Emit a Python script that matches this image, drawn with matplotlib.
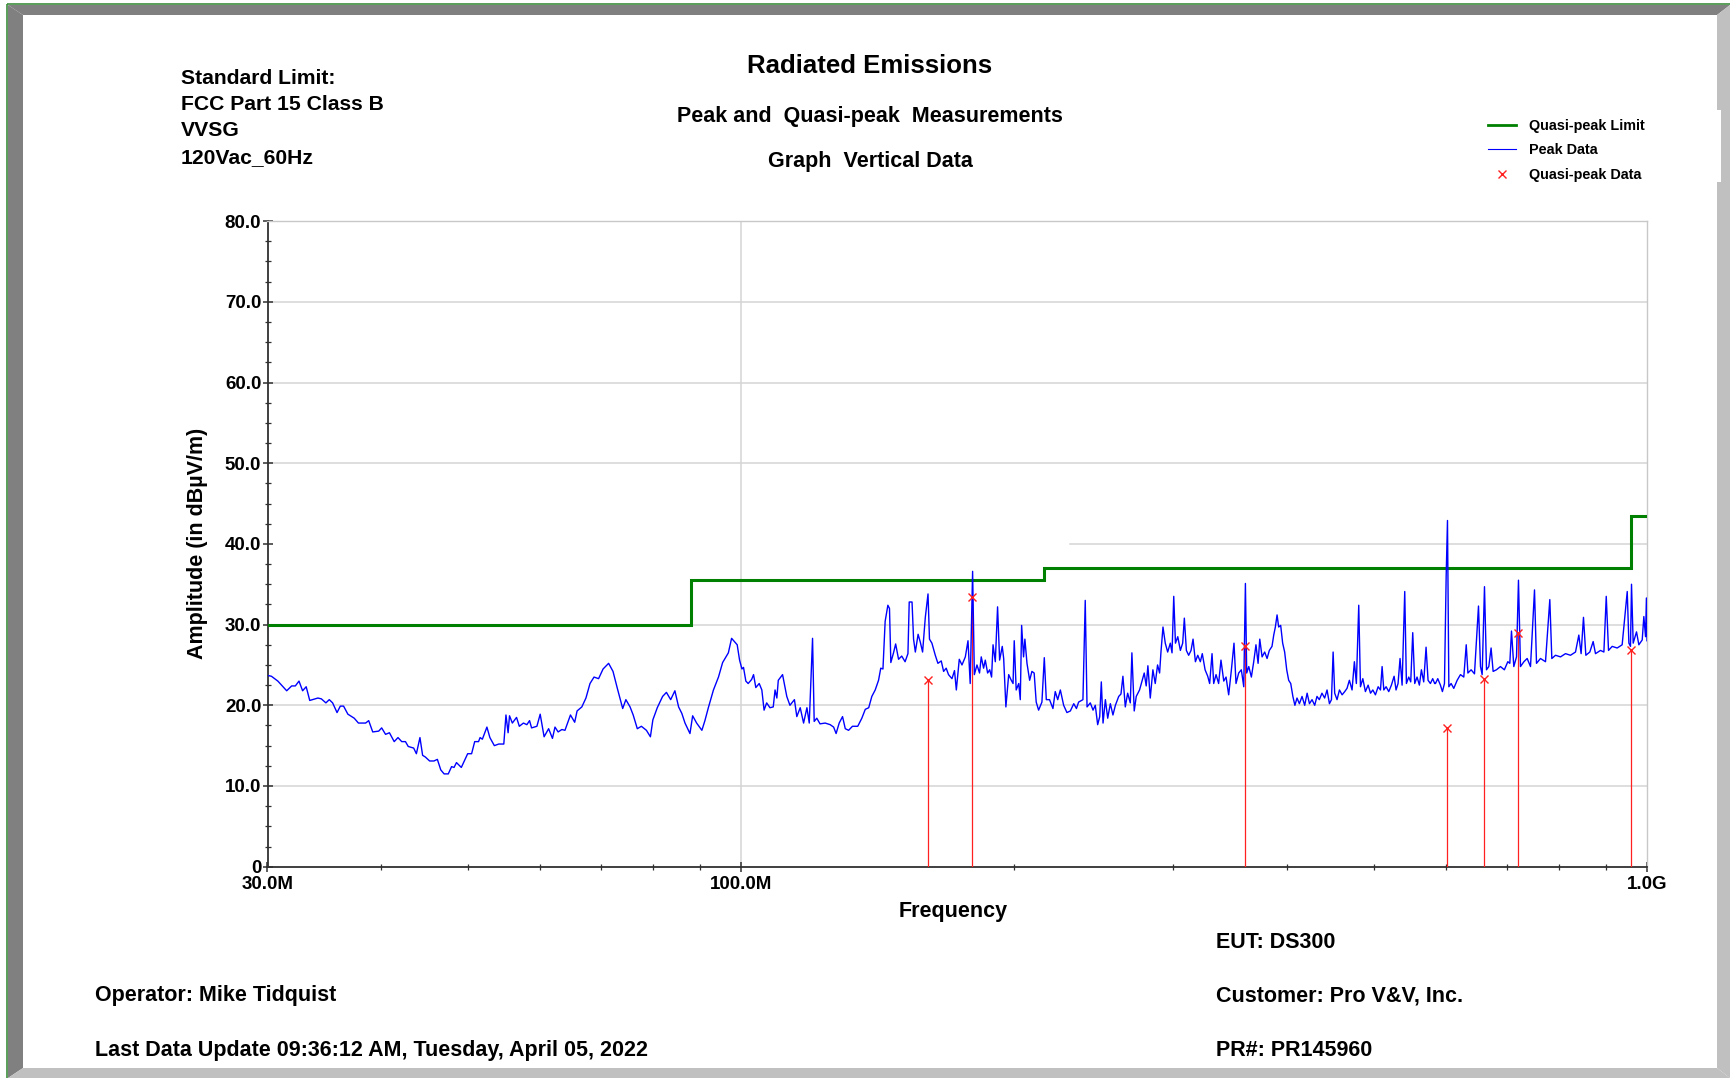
import matplotlib
matplotlib.use('Agg')
import matplotlib.pyplot as plt
from matplotlib.lines import Line2D
from matplotlib.patches import Polygon, Rectangle
from matplotlib.ticker import FixedLocator, NullFormatter

plt.rcParams['font.family'] = ['Liberation Sans', 'DejaVu Sans']
plt.rcParams['font.weight'] = 'bold'

# --- Data (frequency in MHz, level in dBuV/m) ---
# Quasi-peak limit: band edges and level in each band
LIMIT_FREQ = [30, 88, 216, 960, 1000]
LIMIT_LEVEL = [30.0, 35.5, 37.0, 43.5]

# Quasi-peak measurements
QP_FREQ = [160.8, 180.0, 360.2, 601.7, 660.4, 720.7, 960.5]
QP_LEVEL = [23.1, 33.4, 27.3, 17.2, 23.2, 28.9, 26.9]

# Peak sweep
PEAK_FREQ = [
    30.0, 30.3, 30.8, 31.5, 31.9, 32.2, 32.5, 32.8, 33.1, 33.4, 34.1, 34.4, 34.8, 35.1, 35.4,
    35.8, 36.1, 36.4, 36.8, 37.4, 37.8, 38.5, 38.8, 39.2, 39.8, 40.1, 40.5, 40.9, 41.4, 41.8,
    42.2, 42.6, 42.9, 43.5, 43.8, 44.2, 44.5, 44.8, 45.3, 45.8, 46.2, 46.6, 47.0, 47.5, 47.9,
    48.2, 48.5, 49.1, 49.9, 50.4, 50.8, 51.3, 51.5, 51.8, 52.4, 52.8, 53.4, 54.0, 54.7, 55.0,
    55.3, 55.5, 55.9, 56.5, 56.9, 57.5, 58.0, 58.4, 58.7, 59.5, 60.0, 60.6, 61.3, 61.9, 62.3,
    62.8, 63.4, 63.9, 64.8, 65.5, 65.9, 66.7, 67.4, 68.1, 68.8, 69.6, 70.4, 71.4, 72.2, 73.0,
    74.0, 74.6, 75.4, 76.0, 76.8, 77.6, 78.6, 79.4, 79.9, 80.8, 81.9, 82.7, 83.6, 84.5, 85.3,
    86.0, 86.7, 87.8, 88.4, 89.3, 90.5, 91.2, 92.0, 93.2, 94.4, 95.4, 96.8, 97.6, 98.3, 99.0,
    99.6, 100.2, 100.6, 101.2, 101.8, 102.7, 103.2, 103.8, 104.7, 105.4, 106.0, 106.7, 107.6, 108.5, 109.0,
    109.5, 109.9, 111.1, 112.3, 113.2, 114.5, 115.2, 116.2, 117.2, 118.2, 118.9, 119.9, 120.4, 121.2, 122.2,
    123.8, 125.4, 126.5, 127.3, 128.3, 129.4, 130.3, 131.4, 132.7, 134.5, 135.9, 137.1, 138.3, 139.4, 140.6,
    141.8, 142.6, 143.4, 144.2, 145.2, 145.8, 146.3, 147.3, 148.1, 149.2, 150.4, 151.7, 152.8, 153.3, 154.4,
    155.0, 155.7, 156.8, 157.7, 158.6, 159.7, 160.8, 161.4, 162.4, 163.8, 164.9, 166.3, 167.3, 168.4, 169.4,
    170.9, 172.0, 172.8, 174.1, 175.3, 176.8, 178.0, 179.0, 180.1, 180.9, 182.1, 183.3, 184.1, 185.2, 186.0,
    187.1, 188.1, 189.0, 189.7, 190.8, 191.9, 192.9, 194.2, 194.9, 196.0, 197.4, 198.5, 199.6, 200.2, 201.2,
    202.5, 203.3, 204.0, 205.0, 205.7, 206.8, 208.2, 209.4, 210.6, 211.7, 213.0, 214.8, 216.1, 217.2, 219.0,
    220.9, 222.2, 223.6, 225.1, 227.0, 228.9, 230.9, 232.9, 234.5, 235.8, 238.4, 239.8, 240.9, 242.9, 244.6,
    246.0, 247.5, 248.8, 249.8, 250.9, 252.4, 253.9, 255.6, 257.3, 258.9, 261.1, 262.6, 263.9, 265.5, 267.1,
    268.9, 270.0, 271.6, 273.0, 275.3, 277.0, 278.6, 280.0, 281.2, 282.9, 284.8, 286.5, 288.2, 289.7, 290.7,
    292.2, 293.9, 295.7, 297.7, 299.0, 300.3, 301.6, 303.4, 305.4, 307.2, 308.5, 310.1, 311.9, 313.8, 315.4,
    317.3, 319.2, 321.3, 322.9, 325.2, 327.4, 329.0, 331.0, 332.4, 334.4, 336.6, 338.6, 341.0, 343.0, 345.3,
    347.7, 350.0, 351.8, 354.2, 356.6, 358.8, 360.3, 361.5, 363.4, 365.8, 368.0, 370.1, 372.1, 373.7, 375.9,
    378.4, 380.7, 382.9, 385.5, 387.2, 388.8, 390.5, 392.1, 394.1, 396.1, 398.1, 400.2, 402.2, 404.3, 406.5,
    408.6, 410.8, 413.3, 416.1, 418.9, 421.5, 424.0, 426.8, 429.7, 432.2, 434.8, 437.7, 440.7, 443.4, 446.1,
    448.4, 450.3, 452.1, 454.8, 457.6, 460.7, 463.8, 466.5, 469.3, 472.5, 475.3, 477.7, 480.6, 482.7, 485.6,
    488.8, 492.2, 495.2, 498.1, 501.4, 504.9, 507.9, 510.0, 512.2, 515.2, 518.7, 522.2, 525.8, 528.4, 531.1,
    533.8, 536.6, 540.2, 542.5, 545.7, 548.5, 551.3, 554.1, 557.4, 560.7, 563.6, 566.9, 570.3, 573.2, 576.6,
    580.0, 582.9, 584.1, 587.5, 591.5, 594.5, 597.6, 600.2, 602.2, 604.3, 607.8, 611.9, 617.2, 622.4, 627.7,
    631.6, 634.3, 639.5, 645.0, 651.6, 654.9, 657.7, 661.6, 665.0, 668.9, 672.8, 676.3, 682.0, 689.0, 695.9,
    702.0, 705.6, 708.6, 712.8, 717.7, 721.3, 725.0, 731.3, 737.4, 743.7, 751.3, 755.1, 762.8, 772.6, 781.1,
    785.1, 792.5, 802.6, 812.9, 823.2, 833.8, 840.9, 845.8, 850.9, 856.0, 864.7, 872.1, 877.3, 888.5, 896.2,
    901.6, 906.8, 915.3, 927.0, 938.8, 951.0, 955.0, 958.9, 961.4, 965.5, 973.7, 979.5, 987.9, 992.0, 996.3,
    998.5, 1000.0,
]
PEAK_LEVEL = [
    23.7, 23.6, 23.0, 21.8, 22.4, 22.4, 23.0, 21.8, 22.3, 20.6, 20.9, 20.8, 20.3, 20.7, 20.3,
    19.1, 19.9, 19.9, 18.9, 18.4, 17.8, 17.8, 18.1, 16.7, 16.8, 17.2, 16.4, 16.6, 15.5, 16.0,
    15.5, 15.5, 14.9, 14.7, 14.0, 16.0, 13.8, 13.6, 13.1, 13.1, 13.3, 12.0, 11.5, 11.5, 12.4,
    12.3, 12.9, 12.3, 14.0, 14.0, 15.5, 15.5, 16.0, 15.8, 17.3, 16.0, 15.0, 15.2, 15.2, 18.8,
    16.6, 18.7, 17.8, 18.5, 17.4, 17.8, 17.6, 18.1, 17.2, 17.4, 18.9, 16.1, 17.1, 15.9, 17.3,
    16.7, 17.0, 16.9, 18.8, 17.9, 19.3, 19.8, 20.9, 22.7, 23.5, 23.3, 24.5, 25.2, 24.2, 22.1,
    19.6, 20.7, 19.8, 18.8, 17.1, 17.4, 16.9, 16.1, 18.2, 19.7, 21.1, 21.6, 20.7, 21.8, 19.8,
    19.0, 17.8, 16.5, 18.7, 17.8, 16.9, 18.1, 19.7, 21.9, 23.5, 25.3, 26.5, 28.3, 27.9, 27.5,
    25.6, 24.5, 24.7, 23.0, 22.7, 23.2, 23.8, 22.2, 22.7, 21.9, 19.4, 20.3, 19.7, 19.8, 21.9,
    20.9, 23.1, 23.8, 21.1, 20.0, 20.7, 18.6, 19.7, 17.8, 19.7, 17.8, 28.3, 18.0, 18.4, 17.7,
    17.8, 17.6, 17.3, 16.5, 17.8, 18.6, 17.1, 16.9, 17.4, 17.4, 18.4, 19.5, 19.7, 21.1, 21.9,
    23.1, 24.6, 24.5, 30.4, 32.4, 32.0, 25.3, 26.5, 27.6, 25.7, 26.1, 25.4, 26.4, 32.8, 32.8,
    28.2, 26.6, 28.8, 27.8, 26.6, 30.9, 33.8, 28.2, 27.7, 26.2, 25.2, 25.5, 24.2, 24.6, 23.8,
    23.3, 24.3, 21.9, 25.7, 25.0, 26.0, 28.0, 22.7, 36.6, 23.8, 25.0, 24.0, 26.0, 24.6, 25.6,
    24.0, 24.4, 23.5, 27.5, 25.4, 32.2, 25.6, 27.3, 25.8, 19.8, 23.8, 23.2, 22.7, 28.0, 21.9,
    22.7, 20.7, 29.9, 26.0, 28.2, 25.2, 23.1, 24.2, 24.0, 20.4, 19.4, 20.4, 25.9, 20.7, 20.7,
    19.6, 21.7, 20.7, 21.9, 20.0, 19.1, 19.3, 20.2, 19.6, 20.4, 20.7, 33.0, 19.8, 20.3, 19.4,
    20.0, 17.6, 18.6, 22.9, 17.8, 20.7, 18.4, 20.2, 18.8, 20.0, 21.1, 21.4, 23.6, 19.8, 21.5,
    20.3, 26.5, 19.3, 21.1, 21.9, 23.0, 24.0, 22.4, 24.9, 20.9, 24.4, 22.7, 25.0, 24.0, 26.6,
    29.7, 27.7, 26.6, 27.7, 26.5, 33.5, 27.7, 28.5, 26.8, 27.7, 30.8, 26.8, 26.2, 26.8, 28.2,
    25.4, 26.2, 25.4, 26.4, 24.4, 23.6, 22.7, 26.4, 22.7, 23.8, 22.7, 25.6, 23.0, 23.5, 21.3,
    24.4, 27.7, 22.7, 24.0, 24.4, 22.3, 35.1, 24.0, 24.8, 23.5, 25.4, 27.5, 25.2, 28.2, 26.0,
    26.6, 25.8, 26.8, 27.3, 28.7, 29.7, 31.2, 29.7, 29.9, 27.7, 26.6, 24.4, 23.1, 22.7, 21.1,
    20.0, 20.9, 20.2, 21.1, 20.0, 21.5, 20.2, 20.7, 20.0, 21.1, 20.7, 21.5, 20.9, 21.9, 20.2,
    20.7, 26.6, 21.5, 20.7, 21.9, 21.3, 21.7, 22.1, 23.1, 21.9, 25.4, 22.7, 32.4, 22.3, 23.3,
    21.7, 22.5, 21.5, 21.9, 21.3, 22.3, 21.9, 24.8, 21.9, 22.3, 21.7, 22.5, 23.6, 21.9, 22.7,
    25.8, 22.5, 34.1, 22.7, 23.5, 22.9, 29.0, 22.7, 23.5, 22.5, 24.4, 22.9, 27.2, 23.1, 22.7,
    23.3, 22.7, 22.7, 23.3, 22.5, 21.7, 22.7, 36.0, 42.9, 22.3, 22.7, 22.1, 23.1, 23.8, 23.5,
    27.5, 24.0, 24.4, 23.9, 32.3, 24.8, 23.8, 34.7, 24.4, 24.8, 27.1, 24.2, 24.4, 24.8, 24.4,
    25.4, 25.2, 29.2, 24.8, 26.0, 35.5, 24.8, 25.4, 25.8, 24.8, 34.3, 25.2, 25.8, 25.4, 33.1,
    25.8, 26.2, 26.0, 26.4, 26.2, 26.6, 28.7, 26.4, 30.9, 26.2, 26.6, 27.9, 26.4, 26.8, 26.6,
    33.5, 26.8, 27.3, 27.1, 27.5, 34.1, 27.7, 27.3, 35.0, 27.7, 29.1, 27.5, 28.1, 31.0, 28.5,
    33.3, 28.0,
]

Y_TICKS = [0, 10, 20, 30, 40, 50, 60, 70, 80]
Y_TICK_LABELS = ['0', '10.0', '20.0', '30.0', '40.0', '50.0', '60.0', '70.0', '80.0']
X_TICKS = [30, 100, 1000]
X_TICK_LABELS = ['30.0M', '100.0M', '1.0G']

HEADER_LINES = ['Standard Limit:', 'FCC Part 15 Class B', 'VVSG', '120Vac_60Hz']

# --- Figure, in pixel units of the original report (1730 x 1078) ---
W, H = 1730, 1078
fig = plt.figure(figsize=(W / 100, H / 100), dpi=100, facecolor='white')

# overlay for the window frame, texts and legend
over = fig.add_axes([0, 0, 1, 1])
over.set_xlim(0, W)
over.set_ylim(H, 0)
over.axis('off')
over.set_zorder(1)

dark = '#808080'
light = '#c0c0c0'
over.add_patch(Polygon([(8, 5), (W, 5), (1717, 15), (23, 15)], closed=True, color=dark, lw=0))
over.add_patch(Polygon([(8, 5), (23, 15), (23, 1068), (8, H)], closed=True, color=dark, lw=0))
over.add_patch(Polygon([(8, H), (23, 1068), (1717, 1068), (W, H)], closed=True, color=light, lw=0))
over.add_patch(Polygon([(1717, 15), (W, 5), (W, H), (1717, 1068)], closed=True, color=light, lw=0))
over.add_patch(Rectangle((1716, 110), 5, 72, color='white', lw=0))
over.plot([7, W], [4, 4], color='#3c8c3c', lw=1.2, solid_capstyle='butt')
over.plot([7, 7], [4, H], color='#3c8c3c', lw=1.2, solid_capstyle='butt')

# header block
for i, line in enumerate(HEADER_LINES):
    over.text(181, 83.5 + i * 26.4, line, fontsize=15.2, va='baseline', ha='left')

over.text(870, 73, 'Radiated Emissions', fontsize=18.5, ha='center', va='baseline')
over.text(870, 122, 'Peak and  Quasi-peak  Measurements', fontsize=15.5, ha='center', va='baseline')
over.text(870, 166.5, 'Graph  Vertical Data', fontsize=15.5, ha='center', va='baseline')

# footer
over.text(1216, 948.5, 'EUT: DS300', fontsize=15.5, ha='left', va='baseline')
over.text(95, 1001.5, 'Operator: Mike Tidquist', fontsize=15.5, ha='left', va='baseline')
over.text(1216, 1001.5, 'Customer: Pro V&V, Inc.', fontsize=15.5, ha='left', va='baseline')
over.text(95, 1056, 'Last Data Update 09:36:12 AM, Tuesday, April 05, 2022', fontsize=15.5,
          ha='left', va='baseline')
over.text(1216, 1056, 'PR#: PR145960', fontsize=15.5, ha='left', va='baseline')

# axis titles
over.text(953, 911, 'Frequency', fontsize=15.5, ha='center', va='center')
over.text(198, 543, 'Amplitude (in dB\u00b5V/m)', fontsize=15.5, ha='center', va='center',
          rotation=90)

# --- Main plot ---
x0, x1, y_top, y_bot = 267.5, 1647.0, 221.1, 866.7
ax = fig.add_axes([x0 / W, 1 - y_bot / H, (x1 - x0) / W, (y_bot - y_top) / H])
ax.set_zorder(2)
ax.set_facecolor('white')
ax.set_xscale('log')
ax.set_xlim(30, 1000)
ax.set_ylim(0, 80)

# grid (the 40 dB line is broken on the left in the original)
for yv in [10, 20, 30, 50, 60, 70]:
    ax.axhline(yv, color='#d4d4d4', lw=1.1, zorder=0)
ax.axhline(40, xmin=0.582, color='#d4d4d4', lw=1.1, zorder=0)
ax.axvline(100, color='#d4d4d4', lw=1.1, zorder=0)

ax.stairs(LIMIT_LEVEL, LIMIT_FREQ, baseline=None, color='#008000', lw=2.2, zorder=3)
ax.plot(PEAK_FREQ, PEAK_LEVEL, color='#0000ff', lw=1.0, zorder=4)
ax.vlines(QP_FREQ, 0, QP_LEVEL, color='#ff2020', lw=0.9, zorder=3)
ax.plot(QP_FREQ, QP_LEVEL, ls='none', marker='x', ms=6, mew=1.0, color='#ff2020', zorder=5)

for side in ['top', 'right']:
    ax.spines[side].set_color('#c8c8c8')
    ax.spines[side].set_linewidth(1.0)
for side in ['left', 'bottom']:
    ax.spines[side].set_color('#303030')
    ax.spines[side].set_linewidth(1.3)

ax.set_yticks(Y_TICKS)
ax.set_yticklabels(Y_TICK_LABELS)
ax.yaxis.set_minor_locator(FixedLocator([v + 2.5 * k for v in Y_TICKS[:-1] for k in (1, 2, 3)]))
ax.set_xticks(X_TICKS)
ax.set_xticklabels(X_TICK_LABELS)
ax.xaxis.set_minor_locator(FixedLocator([40, 50, 60, 70, 80, 90, 200, 300, 400, 500, 600, 700, 800, 900]))
ax.xaxis.set_minor_formatter(NullFormatter())

ax.tick_params(axis='both', which='major', direction='inout', length=7, width=1.1,
               color='#303030', labelsize=13.5, pad=1)
ax.tick_params(axis='both', which='minor', direction='inout', length=4.5, width=0.9,
               color='#303030')
ax.tick_params(axis='x', which='major', pad=3)

# legend in the top right corner
handles = [
    Line2D([], [], color='#008000', lw=2.0),
    Line2D([], [], color='#0000ff', lw=0.8),
    Line2D([], [], ls='none', marker='x', ms=6, mew=1.0, color='#ff2020'),
]
labels = ['Quasi-peak Limit', 'Peak Data', 'Quasi-peak Data']
over.legend(handles, labels, loc='upper left', bbox_to_anchor=(1488, 119),
            bbox_transform=over.transData, frameon=False, fontsize=10.4,
            handlelength=1.95, handletextpad=0.9, labelspacing=0.72,
            borderpad=0, borderaxespad=0)

fig.savefig('out.png', dpi=100, facecolor='white')
plt.close(fig)
